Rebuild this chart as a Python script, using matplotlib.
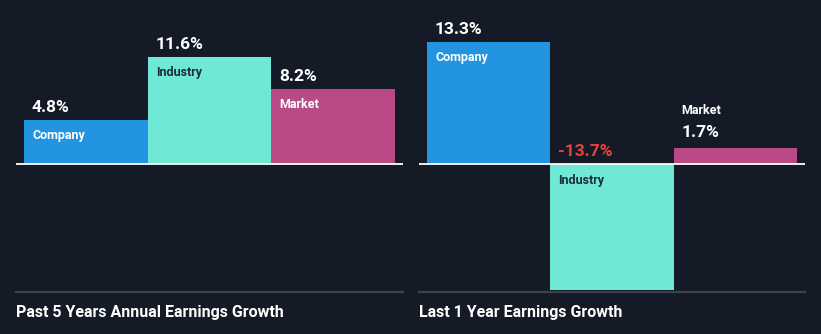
import matplotlib.pyplot as plt

# Earnings growth figures (%)
categories = ['Company', 'Industry', 'Market']
past_5y = [4.8, 11.6, 8.2]
last_1y = [13.3, -13.7, 1.7]
titles = ['Past 5 Years Annual Earnings Growth', 'Last 1 Year Earnings Growth']

# Figure size in pixels
W, H = 821, 334
bg = '#151b26'
colors = ['#2394df', '#6fe8d6', '#b94a85']
label_colors = ['white', '#1f2d36', 'white']
neg_color = '#e8413f'

fig = plt.figure(figsize=(W / 100, H / 100), dpi=100, facecolor=bg)

# Shared scale: px per percent and panel geometry
top, bottom = 20, 292
zero_y = 164
px_per = 9.2
ymin = -(bottom - zero_y) / px_per
ymax = (zero_y - top) / px_per
bar_px = 123
pad_px = 8

def panel(x0, x1, values, title):
    ax = fig.add_axes([x0 / W, (H - bottom) / H, (x1 - x0) / W, (bottom - top) / H])
    ax.set_facecolor(bg)
    ax.bar(range(3), values, width=1.0, color=colors, edgecolor='none')
    ext = pad_px / bar_px
    ax.set_xlim(-0.5 - ext, 2.5 + ext)
    ax.set_ylim(ymin, ymax)
    for s in ax.spines.values():
        s.set_visible(False)
    ax.set_xticks([])
    ax.set_yticks([])
    ax.axhline(0, color='white', lw=1.3, zorder=3)
    ax.axhline(ymin, color='#3b424d', lw=1.6, zorder=3, clip_on=False)

    for i, v in enumerate(values):
        left = i - 0.5
        vtxt = '%.1f%%' % v
        if v < 0:
            ax.annotate(vtxt, (left, 0), xytext=(pad_px, 5), textcoords='offset pixels',
                        ha='left', va='bottom', color=neg_color, fontsize=12.5,
                        fontweight='bold', family='Roboto')
            ax.annotate(categories[i], (left, 0), xytext=(pad_px, -10), textcoords='offset pixels',
                        ha='left', va='top', color=label_colors[i], fontsize=9,
                        fontweight='bold', family='Roboto')
        elif v < 3:
            ax.annotate(vtxt, (left, v), xytext=(pad_px, 8), textcoords='offset pixels',
                        ha='left', va='bottom', color='white', fontsize=12.5,
                        fontweight='bold', family='Roboto')
            ax.annotate(categories[i], (left, v), xytext=(pad_px, 31), textcoords='offset pixels',
                        ha='left', va='bottom', color='white', fontsize=9,
                        fontweight='bold', family='Roboto')
        else:
            ax.annotate(vtxt, (left, v), xytext=(pad_px, 5), textcoords='offset pixels',
                        ha='left', va='bottom', color='white', fontsize=12.5,
                        fontweight='bold', family='Roboto')
            ax.annotate(categories[i], (left, v), xytext=(pad_px, -9), textcoords='offset pixels',
                        ha='left', va='top', color=label_colors[i], fontsize=9,
                        fontweight='bold', family='Roboto')

    fig.text(x0 / W, 1 - 312 / H, title, ha='left', va='center', color='white',
             fontsize=11.5, fontweight='bold', fontstretch='condensed',
             family=['Liberation Sans Narrow', 'Roboto'])
    return ax

panel(16, 403, past_5y, titles[0])
panel(419, 805, last_1y, titles[1])

fig.savefig('out.png', dpi=100, facecolor=bg)
